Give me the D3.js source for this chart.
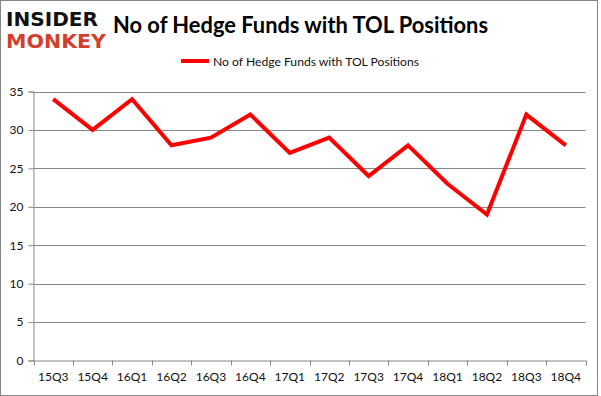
<!DOCTYPE html>
<html>
<head>
<meta charset="utf-8">
<script src="https://cdn.jsdelivr.net/npm/d3@7"></script>
<style>
  body { margin: 0; background: #fff; }
  svg { display: block; }
</style>
</head>
<body>
<svg id="chart" width="601" height="396"></svg>
<script>
// data
const quarters = ['15Q3','15Q4','16Q1','16Q2','16Q3','16Q4','17Q1','17Q2','17Q3','17Q4','18Q1','18Q2','18Q3','18Q4']
const hedgeFunds = [34, 30, 34, 28, 29, 32, 27, 29, 24, 28, 23, 19, 32, 28]
const yTicks = [0, 5, 10, 15, 20, 25, 30, 35]
const seriesName = 'No of Hedge Funds with TOL Positions'

const svg = d3.select('#chart')
const font = "Lato, 'Open Sans', sans-serif"

// outer frame
svg.append('rect')
  .attr('x', 0.5).attr('y', 0.5)
  .attr('width', 597).attr('height', 395)
  .attr('fill', 'none').attr('stroke', '#878787')

const margin = {top: 91.5, left: 33.5, right: 585.5, bottom: 360.5}

const x = d3.scaleBand()
  .domain(quarters)
  .range([margin.left, margin.right])

const y = d3.scaleLinear()
  .domain([0, 35])
  .range([margin.bottom, margin.top])

// gridlines
svg.append('g')
  .selectAll('line')
  .data(yTicks.filter(d => d > 0))
  .join('line')
  .attr('x1', margin.left).attr('x2', margin.right)
  .attr('y1', d => Math.round(y(d)) + 0.5)
  .attr('y2', d => Math.round(y(d)) + 0.5)
  .attr('stroke', '#878787')

// y axis
const yAxis = svg.append('g')
  .attr('transform', `translate(${margin.left},0)`)
  .call(d3.axisLeft(y).tickValues(yTicks).tickSize(5).tickPadding(5))
yAxis.selectAll('path, line').attr('stroke', '#878787')
yAxis.selectAll('text')
  .style('font', `12px ${font}`).attr('fill', '#111')

// x axis, ticks at category boundaries
const xAxis = svg.append('g')
  .attr('transform', `translate(0,${margin.bottom})`)
  .call(d3.axisBottom(x).tickSize(0).tickPadding(12))
xAxis.select('.domain').attr('stroke', '#878787')
xAxis.selectAll('text')
  .style('font', `12px ${font}`).attr('fill', '#111')
svg.append('g')
  .selectAll('line')
  .data(quarters.concat(['end']))
  .join('line')
  .attr('x1', (d, i) => Math.round(margin.left + i * x.step()) + 0.5)
  .attr('x2', (d, i) => Math.round(margin.left + i * x.step()) + 0.5)
  .attr('y1', margin.bottom).attr('y2', margin.bottom + 5)
  .attr('stroke', '#878787')

// series line
const line = d3.line()
  .x((d, i) => x(quarters[i]) + x.bandwidth() / 2)
  .y(d => y(d))

svg.append('path')
  .datum(hedgeFunds)
  .attr('d', line)
  .attr('fill', 'none')
  .attr('stroke', '#ff0000')
  .attr('stroke-width', 4)
  .attr('stroke-linejoin', 'miter')

// title
svg.append('text')
  .attr('x', 113).attr('y', 33)
  .attr('textLength', 375).attr('lengthAdjust', 'spacingAndGlyphs')
  .style('font', `bold 22px ${font}`)
  .attr('fill', '#000')
  .text(seriesName)

// legend
svg.append('line')
  .attr('x1', 181).attr('x2', 209)
  .attr('y1', 61).attr('y2', 61)
  .attr('stroke', '#ff0000').attr('stroke-width', 4)
svg.append('text')
  .attr('x', 213).attr('y', 65.5)
  .attr('textLength', 206).attr('lengthAdjust', 'spacingAndGlyphs')
  .style('font', `12px ${font}`)
  .attr('fill', '#111')
  .text(seriesName)

// logo
svg.append('text')
  .attr('x', 6).attr('y', 26)
  .attr('textLength', 92).attr('lengthAdjust', 'spacingAndGlyphs')
  .style('font', "900 19px 'DejaVu Sans', sans-serif")
  .attr('fill', '#111')
  .text('INSIDER')
svg.append('text')
  .attr('x', 6).attr('y', 48)
  .attr('textLength', 100).attr('lengthAdjust', 'spacingAndGlyphs')
  .style('font', "900 19px 'DejaVu Sans', sans-serif")
  .attr('fill', '#d23f2f')
  .text('MONKEY')
</script>
</body>
</html>
